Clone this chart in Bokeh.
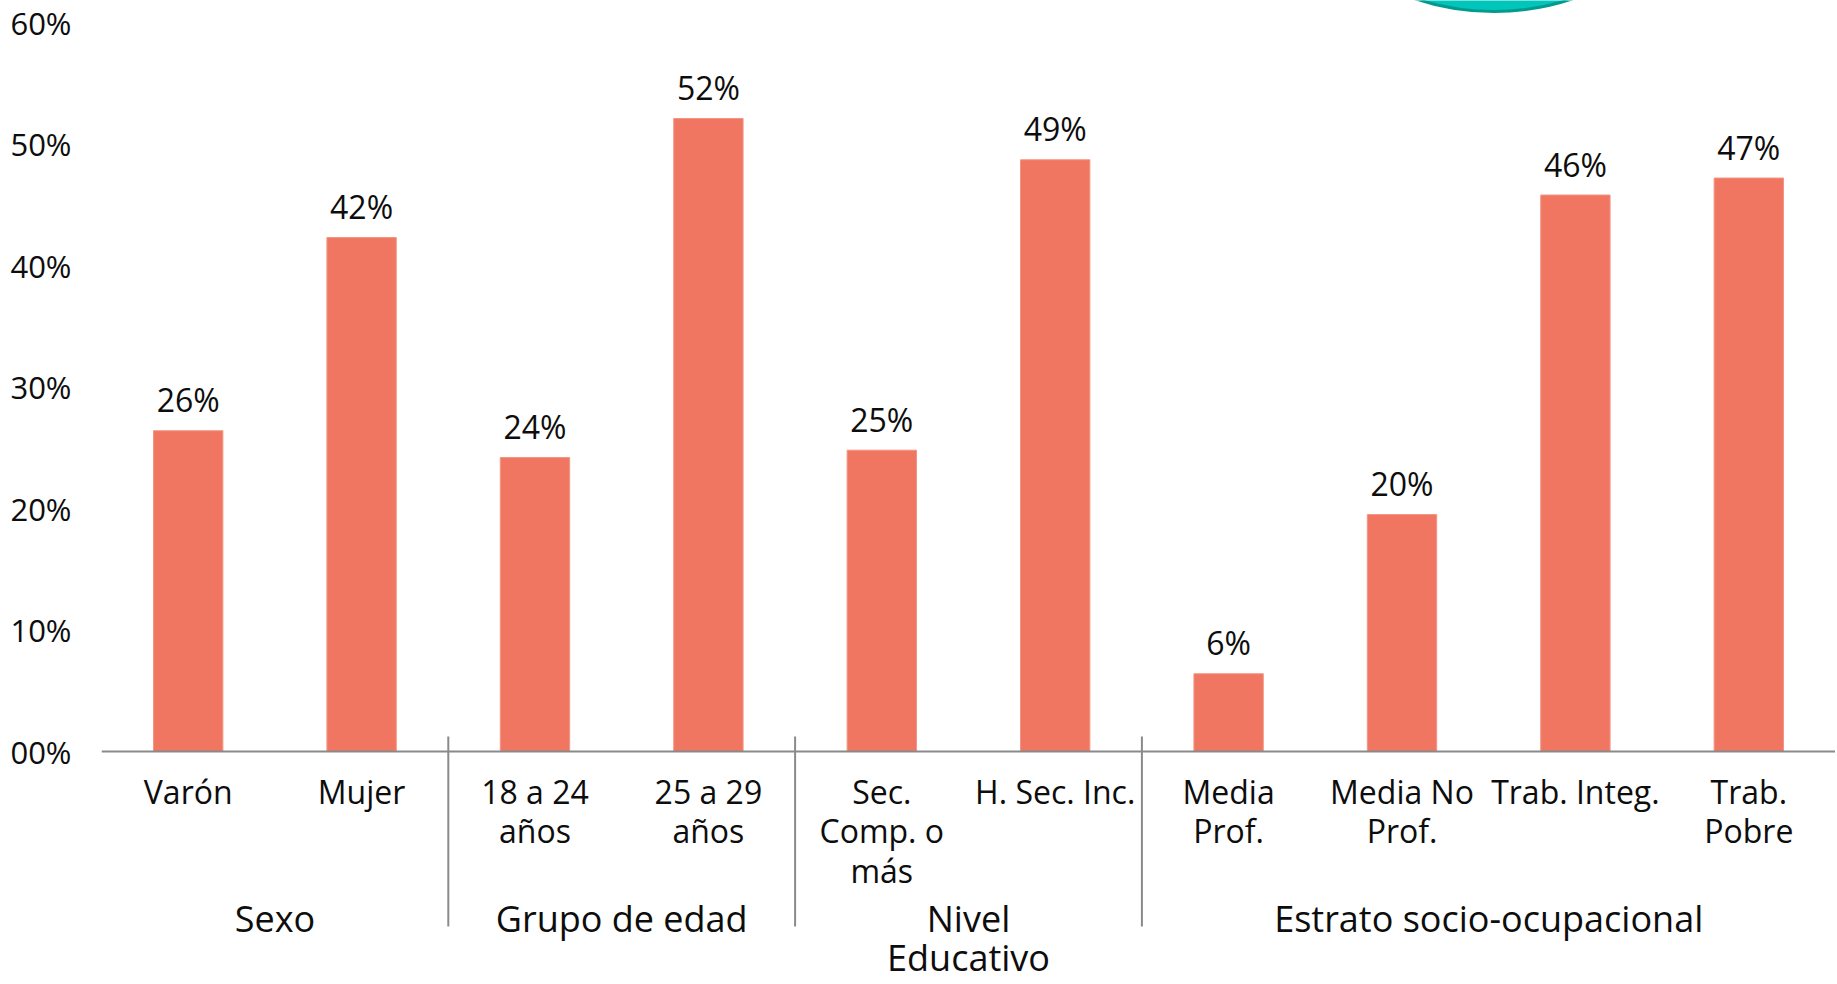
from bokeh.plotting import figure
from bokeh.models import Range1d, FixedTicker, Span, ColumnDataSource
from bokeh.core.properties import value
from bokeh.embed import file_html
from bokeh.resources import INLINE

# ---------------- data ----------------
categories = ["Varón", "Mujer", "18 a 24\naños", "25 a 29\naños",
              "Sec.\nComp. o\nmás", "H. Sec. Inc.", "Media\nProf.",
              "Media No\nProf.", "Trab. Integ.", "Trab.\nPobre"]
values = [0.264, 0.423, 0.242, 0.521, 0.248, 0.487, 0.064, 0.195, 0.458, 0.472]
value_labels = ["26%", "42%", "24%", "52%", "25%", "49%", "6%", "20%", "46%", "47%"]
groups = ["Sexo", "Grupo de edad", "Nivel\nEducativo", "Estrato socio-ocupacional"]
group_sizes = [2, 2, 2, 4]
y_ticks = [0, 0.1, 0.2, 0.3, 0.4, 0.5, 0.6]
y_tick_labels = ["00%", "10%", "20%", "30%", "40%", "50%", "60%"]

# ---------------- layout constants ----------------
W, H = 1835, 982
LEFT = 101
AXIS_PX = 751          # pixel row of 0 %
TOP_PX = 22            # pixel row of 60 %
PX_PER_UNIT = (AXIS_PX - TOP_PX) / 0.6
y_end = 0.6 + TOP_PX / PX_PER_UNIT
y_start = -(H - AXIS_PX) / PX_PER_UNIT

FONT = value("Open Sans")
BAR = "#F07662"
GRAY = "#8a8a8a"
TXT = "#0d0d0d"

xs = list(range(len(categories)))

p = figure(width=W, height=H, x_range=Range1d(-0.5, len(categories) - 0.5),
           y_range=Range1d(y_start, y_end), output_backend="svg",
           toolbar_location=None, x_axis_location=None,
           min_border_left=LEFT, min_border_right=0, min_border_top=0,
           min_border_bottom=0, outline_line_color=None)
p.grid.visible = False
p.background_fill_color = "white"
p.border_fill_color = "white"

# y axis
ya = p.yaxis[0]
ya.ticker = FixedTicker(ticks=y_ticks)
ya.major_label_overrides = {t: l for t, l in zip(y_ticks, y_tick_labels)}
ya.axis_line_color = None
ya.major_tick_line_color = None
ya.minor_tick_line_color = None
ya.major_tick_out = 0
ya.major_tick_in = 0
ya.major_label_standoff = 30
ya.major_label_text_font = "Open Sans"
ya.major_label_text_font_size = "31px"
ya.major_label_text_color = TXT

# decorative teal circle at top (slide element)
deco = ColumnDataSource(dict(x=[7.53], y=[0.8148]))
p.ellipse(x="x", y="y", width=500, height=500, width_units="screen",
          height_units="screen", source=deco, fill_color="#00C5BA",
          line_color="#009A8E", line_width=3)

# bars
src = ColumnDataSource(dict(x=xs, top=values, lab=value_labels,
                            cat=categories, zero=[0] * len(xs)))
p.vbar(x="x", top="top", width=0.4, source=src, fill_color=BAR,
       line_color="#F39583", line_width=1)

# baseline axis line
p.add_layout(Span(location=0, dimension="width", line_color=GRAY, line_width=2))

# value labels
p.text(x="x", y="top", text="lab", source=src, text_align="center",
       text_baseline="alphabetic", y_offset=-31, text_font=FONT,
       text_font_size="32px", text_color=TXT)

# category labels
p.text(x="x", y="zero", text="cat", source=src, text_align="center",
       text_baseline="top", y_offset=18, text_font=FONT,
       text_font_size="32px", text_color=TXT, text_line_height=0.92)

# group labels and separators
gx, bounds = [], []
start = 0
for n in group_sizes:
    gx.append(start + (n - 1) / 2)
    start += n
    bounds.append(start - 0.5)
bounds = bounds[:-1]
gsrc = ColumnDataSource(dict(x=gx, y=[0] * len(gx), t=groups))
p.text(x="x", y="y", text="t", source=gsrc, text_align="center",
       text_baseline="top", y_offset=142, text_font=FONT,
       text_font_size="36px", text_color=TXT, text_line_height=0.8)

sep_top = 15 / PX_PER_UNIT
sep_bot = -175 / PX_PER_UNIT
p.segment(x0=bounds, x1=bounds, y0=[sep_top] * len(bounds),
          y1=[sep_bot] * len(bounds), line_color=GRAY, line_width=2)

open("out.html", "w").write(file_html(p, INLINE))
